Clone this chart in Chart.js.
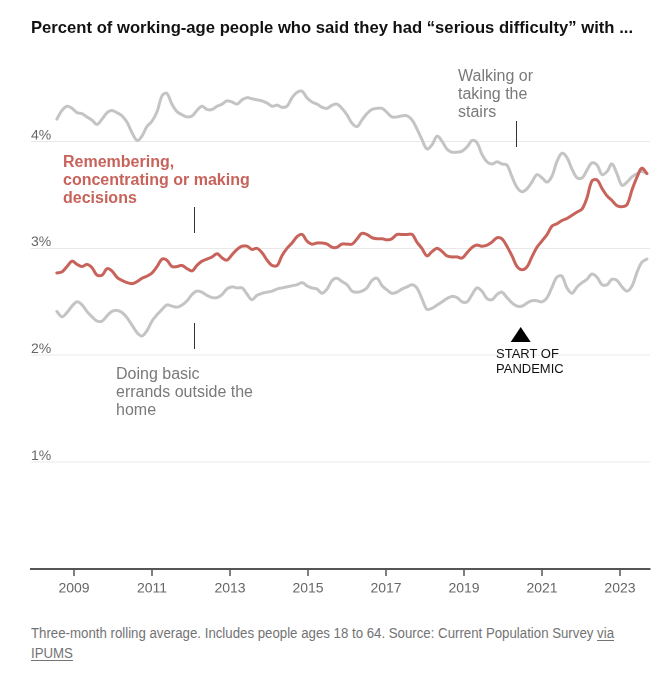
<!DOCTYPE html>
<html>
<head>
<meta charset="utf-8">
<script src="https://cdn.jsdelivr.net/npm/chart.js@4.4.1/dist/chart.umd.min.js"></script>
<style>
  html, body { margin: 0; padding: 0; background: #fff; }
  #wrap { position: relative; width: 659px; height: 680px; overflow: hidden; font-family: "Liberation Sans", Arial, sans-serif; }
  #c { position: absolute; left: 0; top: 0; }
  .t { position: absolute; white-space: nowrap; }
  #title { left: 31px; top: 18px; font-size: 17px; line-height: 20px; font-weight: bold; color: #121212; font-family: "Liberation Sans Narrow", "Liberation Sans", Arial, sans-serif; transform-origin: 0 0; }
  #lblRem { left: 63px; top: 153px; font-size: 16px; line-height: 18px; font-weight: bold; color: #c8635b; }
  #lblWalk { left: 458px; top: 67px; font-size: 16px; line-height: 17.8px; color: #7a7a7a; }
  #lblErr { left: 116px; top: 365px; font-size: 16px; line-height: 18px; color: #7a7a7a; }
  #lblPan { left: 496px; top: 345.5px; font-size: 13px; line-height: 15px; color: #111; }
  .foot { left: 31px; font-size: 14px; line-height: 20px; color: #737373; transform-origin: 0 0; }
  .foot u { text-decoration-thickness: 1px; text-underline-offset: 2px; }
</style>
</head>
<body>
<div id="wrap">
  <canvas id="c" width="659" height="610"></canvas>
  <div class="t" id="title">Percent of working-age people who said they had “serious difficulty” with ...</div>
  <div class="t" id="lblRem">Remembering,<br>concentrating or making<br>decisions</div>
  <div class="t" id="lblWalk">Walking or<br>taking the<br>stairs</div>
  <div class="t" id="lblErr">Doing basic<br>errands outside the<br>home</div>
  <div class="t" id="lblPan">START OF<br>PANDEMIC</div>
  <div class="t foot" id="foot1" style="top:623px">Three-month rolling average. Includes people ages 18 to 64. Source: Current Population Survey <u>via</u></div>
  <div class="t foot" id="foot2" style="top:643px"><u>IPUMS</u></div>
</div>
<script>
// ---- DATA ----
const years = [2008.56,2008.69,2008.82,2008.95,2009.08,2009.21,2009.33,2009.46,2009.59,2009.72,
  2009.85,2009.97,2010.10,2010.23,2010.36,2010.49,2010.62,2010.74,2010.87,2011.00,
  2011.13,2011.26,2011.38,2011.51,2011.64,2011.77,2011.90,2012.03,2012.15,2012.28,
  2012.41,2012.54,2012.67,2012.80,2012.92,2013.05,2013.18,2013.31,2013.44,2013.56,
  2013.69,2013.82,2013.95,2014.08,2014.21,2014.33,2014.46,2014.59,2014.72,2014.85,
  2014.97,2015.10,2015.23,2015.36,2015.49,2015.62,2015.74,2015.87,2016.00,2016.13,
  2016.26,2016.38,2016.51,2016.64,2016.77,2016.90,2017.03,2017.15,2017.28,2017.41,
  2017.54,2017.67,2017.79,2017.92,2018.05,2018.18,2018.31,2018.44,2018.56,2018.69,
  2018.82,2018.95,2019.08,2019.21,2019.33,2019.46,2019.59,2019.72,2019.85,2019.97,
  2020.10,2020.23,2020.36,2020.49,2020.62,2020.74,2020.87,2021.00,2021.13,2021.26,
  2021.38,2021.51,2021.64,2021.77,2021.90,2022.03,2022.15,2022.28,2022.41,2022.54,
  2022.67,2022.79,2022.92,2023.05,2023.18,2023.31,2023.44,2023.56,2023.69];

const walking = [4.21,4.29,4.33,4.31,4.27,4.26,4.23,4.20,4.16,4.21,
  4.27,4.29,4.27,4.24,4.18,4.08,4.01,4.05,4.14,4.19,
  4.28,4.43,4.45,4.35,4.28,4.25,4.23,4.24,4.29,4.33,
  4.30,4.30,4.33,4.35,4.38,4.37,4.35,4.39,4.41,4.40,
  4.39,4.38,4.36,4.33,4.34,4.32,4.33,4.41,4.46,4.47,
  4.41,4.37,4.35,4.32,4.31,4.34,4.35,4.31,4.25,4.17,
  4.14,4.20,4.26,4.30,4.31,4.31,4.27,4.23,4.23,4.24,
  4.24,4.20,4.12,4.02,3.93,3.97,4.05,4.00,3.93,3.90,
  3.90,3.91,3.95,4.01,3.99,3.88,3.81,3.79,3.81,3.79,
  3.78,3.67,3.57,3.53,3.56,3.62,3.69,3.66,3.62,3.68,
  3.81,3.89,3.85,3.74,3.66,3.66,3.73,3.80,3.78,3.69,
  3.72,3.79,3.70,3.59,3.62,3.67,3.70,3.72,3.70];

const remembering = [2.77,2.78,2.83,2.88,2.85,2.83,2.85,2.82,2.75,2.75,
  2.81,2.79,2.73,2.70,2.68,2.67,2.69,2.72,2.74,2.77,
  2.83,2.90,2.89,2.83,2.83,2.84,2.81,2.79,2.84,2.88,
  2.90,2.92,2.95,2.91,2.89,2.94,2.99,3.02,3.02,2.99,
  3.00,2.96,2.89,2.84,2.84,2.93,3.00,3.05,3.11,3.13,
  3.07,3.04,3.05,3.05,3.04,3.01,3.01,3.04,3.04,3.04,
  3.09,3.14,3.13,3.10,3.09,3.09,3.08,3.09,3.13,3.13,
  3.13,3.13,3.06,3.00,2.93,2.97,3.00,2.97,2.93,2.92,
  2.92,2.91,2.96,3.01,3.03,3.02,3.03,3.06,3.10,3.09,
  3.02,2.93,2.83,2.80,2.83,2.92,3.01,3.07,3.13,3.21,
  3.23,3.26,3.28,3.31,3.34,3.37,3.47,3.63,3.64,3.56,
  3.49,3.45,3.40,3.39,3.41,3.55,3.67,3.75,3.70];

const errands = [2.41,2.36,2.40,2.46,2.50,2.47,2.41,2.36,2.32,2.32,
  2.37,2.41,2.42,2.40,2.35,2.28,2.21,2.18,2.23,2.32,
  2.38,2.43,2.47,2.46,2.45,2.47,2.51,2.57,2.60,2.59,
  2.56,2.54,2.54,2.57,2.62,2.64,2.63,2.63,2.57,2.52,
  2.56,2.58,2.59,2.60,2.62,2.63,2.64,2.65,2.66,2.68,
  2.65,2.63,2.62,2.58,2.62,2.70,2.72,2.69,2.66,2.60,
  2.59,2.60,2.63,2.70,2.72,2.65,2.61,2.58,2.59,2.62,
  2.64,2.66,2.63,2.53,2.43,2.44,2.47,2.50,2.53,2.55,
  2.54,2.50,2.50,2.57,2.63,2.60,2.53,2.52,2.57,2.59,
  2.54,2.49,2.46,2.46,2.49,2.51,2.51,2.50,2.54,2.64,
  2.73,2.74,2.63,2.58,2.64,2.68,2.71,2.76,2.73,2.66,
  2.66,2.71,2.70,2.64,2.60,2.65,2.78,2.87,2.90];

const xTickYears = [2009, 2011, 2013, 2015, 2017, 2019, 2021, 2023];
const yTickValues = [1, 2, 3, 4];

// ---- helpers ----
const toXY = (vals) => vals.map((v, i) => ({ x: years[i], y: v }));

const GRAY = '#c4c4c4';
const RED = '#c8635b';

const annotations = {
  id: 'annotations',
  afterDraw(chart) {
    const ctx = chart.ctx;
    ctx.save();
    ctx.strokeStyle = '#333';
    ctx.lineWidth = 1;
    const lines = [[194, 207, 233], [194, 323, 349], [516, 121, 147]];
    lines.forEach(([x, y1, y2]) => {
      ctx.beginPath(); ctx.moveTo(x + 0.5, y1); ctx.lineTo(x + 0.5, y2); ctx.stroke();
    });
    ctx.fillStyle = '#000';
    ctx.beginPath();
    ctx.moveTo(520.7, 327); ctx.lineTo(530.7, 342); ctx.lineTo(510.7, 342); ctx.closePath();
    ctx.fill();
    ctx.restore();
  }
};

new Chart(document.getElementById('c'), {
  type: 'line',
  data: {
    datasets: [
      { label: 'Remembering, concentrating or making decisions', data: toXY(remembering), borderColor: RED, borderWidth: 3, order: 0 },
      { label: 'Walking or taking the stairs', data: toXY(walking), borderColor: GRAY, borderWidth: 3, order: 1 },
      { label: 'Doing basic errands outside the home', data: toXY(errands), borderColor: GRAY, borderWidth: 3, order: 2 }
    ]
  },
  options: {
    responsive: false,
    animation: false,
    devicePixelRatio: 2,
    layout: { padding: { left: 31, right: 9, top: 56, bottom: 0 } },
    elements: {
      point: { radius: 0, hoverRadius: 0 },
      line: { tension: 0.35, borderCapStyle: 'round', borderJoinStyle: 'round', fill: false }
    },
    plugins: { legend: { display: false }, tooltip: { enabled: false } },
    scales: {
      x: {
        type: 'linear',
        min: 2007.897,
        max: 2023.769,
        afterBuildTicks: (s) => { s.ticks = xTickYears.map(v => ({ value: v })); },
        afterFit: (s) => { s.height = 41; },
        grid: { drawOnChartArea: false, drawTicks: true, tickLength: 7, tickColor: '#555', tickWidth: 1.5 },
        border: { display: true, color: '#555', width: 2 },
        ticks: {
          autoSkip: false, maxRotation: 0, padding: 4, color: '#666',
          font: { family: '"Liberation Sans", Arial, sans-serif', size: 14 },
          callback: (v) => String(v)
        }
      },
      y: {
        type: 'linear',
        min: 0,
        max: 4.8,
        afterBuildTicks: (s) => { s.ticks = yTickValues.map(v => ({ value: v })); },
        afterFit: (s) => { s.width = 0; },
        grid: { color: '#e9e9e9', lineWidth: 1, drawTicks: false },
        border: { display: false },
        ticks: {
          mirror: true, padding: 0, labelOffset: -6, color: '#666',
          font: { family: '"Liberation Sans", Arial, sans-serif', size: 14 },
          callback: (v) => v + '%'
        }
      }
    }
  },
  plugins: [annotations]
});

// fit condensed headline/footer widths to the reference
function fit(el, target) {
  const w = el.getBoundingClientRect().width;
  if (w > 0) el.style.transform = 'scaleX(' + (target / w) + ')';
  return target / w;
}
fit(document.getElementById('title'), 602);
const k = fit(document.getElementById('foot1'), 583);
document.getElementById('foot2').style.transform = 'scaleX(' + k + ')';
</script>
</body>
</html>
